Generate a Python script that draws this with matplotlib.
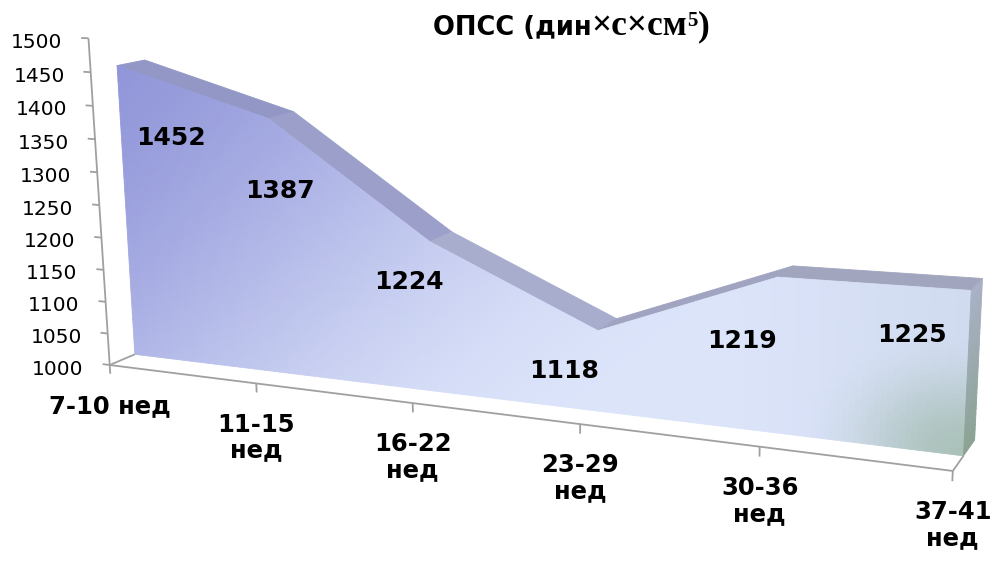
import numpy as np
import matplotlib
matplotlib.use("Agg")
import matplotlib.pyplot as plt
import matplotlib.transforms as mtransforms
from matplotlib.colors import to_rgb
from mpl_toolkits.mplot3d.art3d import Poly3DCollection

# ---- data ---------------------------------------------------------------
categories = ["7-10 нед", "11-15\nнед", "16-22\nнед", "23-29\nнед",
              "30-36\nнед", "37-41\nнед"]
values = [1452, 1387, 1224, 1118, 1219, 1225]
value_ticks = [1000, 1050, 1100, 1150, 1200, 1250, 1300, 1350, 1400, 1450, 1500]
title_main = "ОПСС (дин"
title_unit = "×с×см"
title_power = "5"
title_close = ")"

# ---- styling / layout ---------------------------------------------------
value_label_offsets = [(39, -52), (8, -52), (-15, -29), (-24, -29), (-26, -46), (-43, -32)]
top_colors = ["#9397c6", "#9b9fc9", "#a8accd", "#a0a4c1", "#a1a5be"]
cap_top, cap_bottom = "#aab1c6", "#8aa292"
axis_gray = "#a0a0a0"

W, H, DPI = 997, 561, 100
fig = plt.figure(figsize=(W / DPI, H / DPI), dpi=DPI)
fig.patch.set_facecolor("white")

BASE = value_ticks[0]
TOP = value_ticks[-1]
n = len(values)
xs = np.arange(n)

CAT_STEP = 260.9                 # one category step expressed in value units
SLAB_FRONT, SLAB_BACK = 65.0, 136.0
DEPTH = 200.0
XLIM = (-0.007, 5.993)
ZLIM = (754.0, 1554.0)
SIDE = 1214.2                    # square 3d viewport, px
CENTER = (606.0, 261.0)          # px (from lower left) of the view centre

left = CENTER[0] - SIDE * 0.095 / 0.185
bottom = CENTER[1] - SIDE * 0.095 / 0.185
ax = fig.add_axes([left / W, bottom / H, SIDE / W, SIDE / H], projection="3d")
ax.set_box_aspect(((XLIM[1] - XLIM[0]) * CAT_STEP, DEPTH, ZLIM[1] - ZLIM[0]))
ax.view_init(elev=14.26, azim=-67.9, roll=0)
ax.set_proj_type("persp", focal_length=0.298)
ax.set_xlim(*XLIM)
ax.set_ylim(0, DEPTH)
ax.set_zlim(*ZLIM)
ax.set_axis_off()
ax.computed_zorder = False

DARK = np.array(to_rgb("#8f94d8"))
LIGHT = np.array(to_rgb("#dce4fa"))
GREY = np.array(to_rgb("#c8d5e8"))
GREEN = np.array(to_rgb("#9cb7a5"))


def smooth(x):
    x = np.clip(x, 0, 1)
    return x * x * (3 - 2 * x)


def front_color(t, h):
    """Colour of the front face at category fraction t and height fraction h."""
    c = DARK + (LIGHT - DARK) * smooth(0.9 * t + 0.4 * (1 - h) + 0.05)
    c = c + (GREY - c) * 0.6 * np.clip((t - 0.75) / 0.25, 0, 1)
    dist = np.hypot((1 - t) * 975 / 165.0, h * 350 / 120.0)
    gw = 0.72 * smooth(1 - dist)
    return c + (GREEN - c) * gw


# ---- top faces of the slab ----------------------------------------------
top_polys = []
for i in range(n - 1):
    top_polys.append([(xs[i], SLAB_FRONT, values[i]), (xs[i + 1], SLAB_FRONT, values[i + 1]),
                      (xs[i + 1], SLAB_BACK, values[i + 1]), (xs[i], SLAB_BACK, values[i])])
tops = Poly3DCollection(top_polys, facecolors=top_colors, edgecolors=top_colors,
                        linewidths=0.6, zorder=2)
ax.add_collection3d(tops)

# ---- front face with gradient -------------------------------------------
n_sub, n_rows = 30, 40
polys, cols = [], []
for i in range(n - 1):
    for j in range(n_sub):
        f0, f1 = j / n_sub, (j + 1) / n_sub
        x0, x1 = xs[i] + f0, xs[i] + f1
        t0 = values[i] + (values[i + 1] - values[i]) * f0
        t1 = values[i] + (values[i + 1] - values[i]) * f1
        for r in range(n_rows):
            s0, s1 = r / n_rows, (r + 1) / n_rows
            quad = [(x0, SLAB_FRONT, BASE + (t0 - BASE) * s0),
                    (x1, SLAB_FRONT, BASE + (t1 - BASE) * s0),
                    (x1, SLAB_FRONT, BASE + (t1 - BASE) * s1),
                    (x0, SLAB_FRONT, BASE + (t0 - BASE) * s1)]
            zc = np.mean([q[2] for q in quad])
            polys.append(quad)
            cols.append(front_color((x0 + x1) / 2 / (n - 1), (zc - BASE) / (TOP - BASE)))
front = Poly3DCollection(polys, facecolors=cols, edgecolors=cols, linewidths=0.6, zorder=3)
ax.add_collection3d(front)

# ---- right end cap --------------------------------------------------------
cap_polys, cap_cols = [], []
c_top, c_bot = np.array(to_rgb(cap_top)), np.array(to_rgb(cap_bottom))
n_cap = 30
for r in range(n_cap):
    z0 = BASE + (values[-1] - BASE) * r / n_cap
    z1 = BASE + (values[-1] - BASE) * (r + 1) / n_cap
    cap_polys.append([(xs[-1], SLAB_FRONT, z0), (xs[-1], SLAB_BACK, z0),
                      (xs[-1], SLAB_BACK, z1), (xs[-1], SLAB_FRONT, z1)])
    cap_cols.append(c_bot + (c_top - c_bot) * (r + 0.5) / n_cap)
cap = Poly3DCollection(cap_polys, facecolors=cap_cols, edgecolors=cap_cols,
                       linewidths=0.6, zorder=3)
ax.add_collection3d(cap)

# ---- floor edges, value axis and ticks -----------------------------------
line_kw = dict(color=axis_gray, lw=1.3, zorder=5, solid_capstyle="butt")
ax.plot([xs[0], xs[-1]], [0, 0], [BASE, BASE], **line_kw)
ax.plot([xs[0], xs[0]], [0, SLAB_FRONT], [BASE, BASE], **line_kw)
ax.plot([xs[-1], xs[-1]], [0, SLAB_FRONT], [BASE, BASE], **line_kw)
for x in xs:
    ax.plot([x, x], [0, 0], [BASE, BASE - 14], **line_kw)
ax.plot([xs[0], xs[0]], [0, 0], [BASE, TOP], **line_kw)
for v in value_ticks:
    ax.plot([xs[0], xs[0] - 0.05], [0, 0], [v, v], **line_kw)

# ---- text ------------------------------------------------------------------
M = ax.get_proj()


def to2d(x, y, z):
    p = M @ np.array([x, y, z, 1.0])
    return p[0] / p[3], p[1] / p[3]


for v in value_ticks:
    ax.annotate(str(v), to2d(xs[0], 0, v), xytext=(-18.7, -2.9),
                textcoords="offset points", ha="right", va="center",
                fontsize=14.5, family="DejaVu Sans", color="black")

for x, lab in zip(xs, categories):
    ax.annotate(lab, to2d(x, 0, BASE), xytext=(0, -21), textcoords="offset points",
                ha="center", va="top", fontsize=17.5, fontweight="bold",
                family="DejaVu Sans", linespacing=1.1, color="black")

for x, v, off in zip(xs, values, value_label_offsets):
    ax.annotate(str(v), to2d(x, SLAB_FRONT, v), xytext=off, textcoords="offset points",
                ha="center", va="center", fontsize=18, fontweight="bold",
                family="DejaVu Sans", color="black")

# title built from pieces set in different faces
renderer = fig.canvas.get_renderer()
pieces = [(title_main, dict(family="DejaVu Sans", weight="bold", size=18.5), 0),
          (title_unit, dict(family="Liberation Serif", weight="bold", size=25.5), 0),
          (title_power, dict(family="Liberation Serif", weight="bold", size=15), 9),
          (title_close, dict(family="Liberation Serif", weight="bold", size=25.5), 0)]
ident = mtransforms.IdentityTransform()
placed = []
for s, kw, rise in pieces:
    t = fig.text(0, 0, s, ha="left", va="baseline", transform=ident, color="black", **kw)
    placed.append((t, rise))
widths = [t.get_window_extent(renderer).width for t, _ in placed]
cx = 571 - sum(widths) / 2
for (t, rise), w in zip(placed, widths):
    t.set_position((cx, H - 35 + rise))
    cx += w

fig.savefig("out.png", dpi=DPI)
